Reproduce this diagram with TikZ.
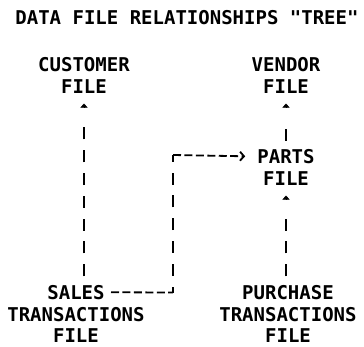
\documentclass[tikz,border=0pt]{standalone}
\usepackage{fontspec}
\setmonofont{DejaVu Sans Mono}
\usetikzlibrary{arrows.meta}

\begin{document}
\begin{tikzpicture}[x=1pt,y=-1pt,
    txt/.style={font=\ttfamily\bfseries\fontsize{19}{21.5}\selectfont, align=center, inner sep=0pt},
    vbar/.style={line width=1.6pt, dash pattern=on 12pt off 10.8pt},
    hbar/.style={line width=1.8pt, dash pattern=on 8pt off 3.44pt},
    upline/.style={vbar, shorten <=9pt, shorten >=33pt},
    caret/.style={-{Triangle[width=7pt,length=4pt]}}]

    \useasboundingbox (0,0) rectangle (364,346);

    \node[txt] (title) at (187,18) {DATA FILE RELATIONSHIPS "TREE"};

    \node[txt] (cust) at (84,75.5) {CUSTOMER\\FILE};
    \node[txt] (vend) at (286,75.5) {VENDOR\\FILE};
    \node[txt] (parts) at (286,167.5) {PARTS\\FILE};
    \node[txt] (sales) at (76,314) {SALES\\TRANSACTIONS\\FILE};
    \node[txt] (purch) at (288,314) {PURCHASE\\TRANSACTIONS\\FILE};

    % upward links
    \draw[upline] (cust.south |- sales.north) -- (cust.south);
    \draw[upline] (vend.south |- parts.north) -- (vend.south);
    \draw[upline] (parts.south |- purch.north) -- (parts.south);
    \foreach \n in {cust,vend,parts}
      \draw[caret] ([yshift=-14pt]\n.south) -- ([yshift=-10pt]\n.south);

    % sales over to parts
    \coordinate (low) at (173,292.5);
    \coordinate (high) at (173,155);
    \draw[hbar] ([xshift=35pt,yshift=-7pt]sales.north) -- (low);
    \draw[vbar, dash phase=6pt] (low) -- (high);
    \draw[hbar, shorten >=12pt, -{Straight Barb[length=4pt,width=9pt]}]
        (high) -- ([yshift=-7pt]parts.north west);
\end{tikzpicture}
\end{document}
